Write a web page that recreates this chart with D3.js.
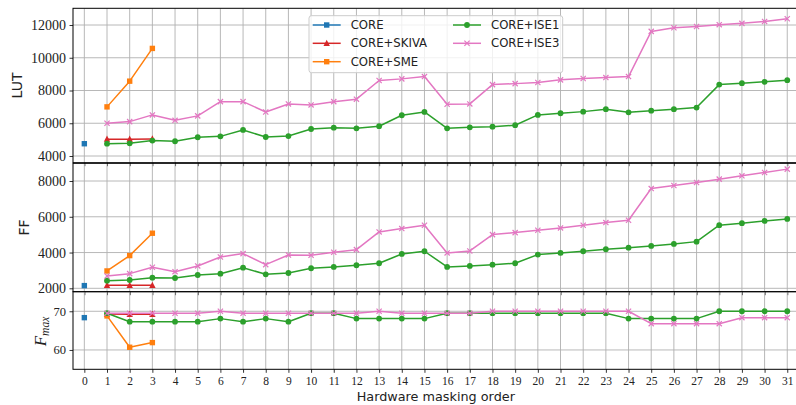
<!DOCTYPE html>
<html><head><meta charset="utf-8">
<script src="https://cdn.jsdelivr.net/npm/d3@7"></script>
<style>body{margin:0;background:#fff}svg{display:block}</style>
</head><body>
<svg id="c" width="796" height="405"></svg>
<script>
// ---------- data ----------
const orders = d3.range(0, 32);
const xTicks = d3.range(0, 32);
const seriesNames = ["CORE", "CORE+SKIVA", "CORE+SME", "CORE+ISE1", "CORE+ISE3"];
const seriesColors = ["#1f77b4", "#d62728", "#ff7f0e", "#2ca02c", "#e377c2"];
const seriesMarkers = ["square", "triangle", "square", "circle", "x"];

const coreX = [0];
const coreLUT = [4750];
const coreFF = [2150];
const coreFmax = [68.35];

const skivaX = [1, 2, 3];
const skivaLUT = [5030, 5030, 5040];
const skivaFF = [2170, 2170, 2170];
const skivaFmax = [69.3, 69.2, 69.2];

const smeX = [1, 2, 3];
const smeLUT = [7000, 8570, 10570];
const smeFF = [2970, 3830, 5080];
const smeFmax = [68.8, 60.7, 61.9];

const iseX = d3.range(1, 32);
const ise1LUT = [4750,4775,4940,4900,5145,5200,5590,5160,5220,5650,5730,5690,5820,6490,6690,5690,5750,5790,5880,6510,6610,6710,6860,6670,6770,6860,6960,8360,8450,8530,8630];
const ise1FF = [2426,2465,2594,2577,2745,2818,3154,2784,2857,3120,3193,3288,3400,3921,4072,3193,3249,3322,3400,3884,3977,4072,4184,4274,4369,4481,4610,5528,5640,5769,5881];
const ise1Fmax = [69.5,67.3,67.3,67.3,67.3,68.1,67.3,68.1,67.3,69.5,69.5,68.1,68.1,68.1,68.1,69.5,69.5,69.5,69.5,69.5,69.5,69.5,69.5,68.1,68.1,68.1,68.1,70.0,70.0,70.0,70.0];

const ise3LUT = [6000,6100,6510,6180,6450,7320,7320,6690,7180,7120,7320,7470,8610,8710,8850,7160,7180,8360,8420,8490,8650,8730,8790,8850,11610,11830,11910,12020,12100,12220,12380];
const ise3FF = [2690,2820,3176,2930,3250,3753,3940,3322,3865,3848,4016,4162,5153,5340,5528,3977,4089,5002,5114,5248,5377,5528,5674,5808,7578,7746,7914,8104,8289,8474,8664];
const ise3Fmax = [69.5,69.5,69.5,69.5,69.5,70.0,69.5,69.5,69.5,69.5,69.5,69.5,70.0,69.5,69.5,69.5,69.5,70.0,70.0,70.0,70.0,70.0,70.0,70.0,66.8,66.8,66.8,66.8,68.35,68.35,68.35];

const lutTicks = [4000, 6000, 8000, 10000, 12000];
const ffTicks = [2000, 4000, 6000, 8000];
const fmaxTicks = [60, 70];

// ---------- layout ----------
const svg = d3.select("#c");
const left = 73, right = 798.6;
const x = d3.scaleLinear().domain([-0.5, 31.5]).range([left, right]);

const panels = [
  {key: "LUT", y0: 8.3, y1: 162.7, domain: [3591, 13020], ticks: lutTicks, tickFont: 14, label: "LUT", labelX: 17,
   data: [[coreX, coreLUT], [skivaX, skivaLUT], [smeX, smeLUT], [iseX, ise1LUT], [iseX, ise3LUT]]},
  {key: "FF", y0: 163.3, y1: 291.7, domain: [1810, 8990], ticks: ffTicks, tickFont: 14, label: "FF", labelX: 24,
   data: [[coreX, coreFF], [skivaX, skivaFF], [smeX, smeFF], [iseX, ise1FF], [iseX, ise3FF]]},
  {key: "Fmax", y0: 291.7, y1: 369.3, domain: [55.0, 75.06], ticks: fmaxTicks, tickFont: 12.5, label: null, labelX: 42,
   data: [[coreX, coreFmax], [skivaX, skivaFmax], [smeX, smeFmax], [iseX, ise1Fmax], [iseX, ise3Fmax]]}
];

function drawMarker(g, type, cx, cy, color) {
  const s = 5.4;
  if (type === "square") {
    g.append("rect").attr("x", cx - s/2).attr("y", cy - s/2).attr("width", s).attr("height", s).attr("fill", color);
  } else if (type === "circle") {
    g.append("circle").attr("cx", cx).attr("cy", cy).attr("r", 2.9).attr("fill", color);
  } else if (type === "triangle") {
    const h = 6;
    g.append("path").attr("d", `M${cx},${cy - h*0.6}L${cx + 3.2},${cy + h*0.45}L${cx - 3.2},${cy + h*0.45}Z`).attr("fill", color);
  } else if (type === "x") {
    const r = 2.6;
    g.append("path").attr("d", `M${cx-r},${cy-r}L${cx+r},${cy+r}M${cx-r},${cy+r}L${cx+r},${cy-r}`)
      .attr("stroke", color).attr("stroke-width", 1.2).attr("fill", "none");
  }
}

panels.forEach((p, pi) => {
  const y = d3.scaleLinear().domain(p.domain).range([p.y1, p.y0]);
  const g = svg.append("g");
  const clipId = "clip" + pi;
  svg.append("clipPath").attr("id", clipId).append("rect")
    .attr("x", left).attr("y", p.y0).attr("width", right - left).attr("height", p.y1 - p.y0);

  // grid
  const grid = g.append("g").attr("clip-path", `url(#${clipId})`);
  grid.selectAll("line.v").data(xTicks).enter().append("line")
    .attr("x1", d => x(d)).attr("x2", d => x(d)).attr("y1", p.y0).attr("y2", p.y1)
    .attr("stroke", "#b0b0b0").attr("stroke-width", 0.9);
  grid.selectAll("line.h").data(p.ticks).enter().append("line")
    .attr("y1", d => y(d)).attr("y2", d => y(d)).attr("x1", left).attr("x2", right)
    .attr("stroke", "#b0b0b0").attr("stroke-width", 0.9);

  // series
  const plot = g.append("g").attr("clip-path", `url(#${clipId})`);
  p.data.forEach(([xs, vs], si) => {
    const pts = xs.map((xx, i) => [x(xx), y(vs[i])]);
    const color = seriesColors[si];
    if (pts.length > 1) {
      plot.append("path").attr("d", d3.line()(pts)).attr("fill", "none")
        .attr("stroke", color).attr("stroke-width", 1.5).attr("stroke-linejoin", "round");
    }
    pts.forEach(([cx, cy]) => drawMarker(plot, seriesMarkers[si], cx, cy, color));
  });

  // y axis
  const yAxis = d3.axisLeft(y).tickValues(p.ticks).tickSize(3.5).tickPadding(3.5).tickFormat(d3.format("d"));
  const ya = g.append("g").attr("transform", `translate(${left},0)`).call(yAxis);
  ya.select(".domain").remove();
  ya.selectAll("text").attr("font-family", "'Liberation Serif', serif").attr("font-size", p.tickFont).attr("fill", "#222");
  ya.selectAll("line").attr("stroke", "#000").attr("stroke-width", 0.8);

  // x axis ticks (labels only on bottom)
  const xAxis = d3.axisBottom(x).tickValues(xTicks).tickSize(3.5).tickPadding(4)
    .tickFormat(pi === panels.length - 1 ? d3.format("d") : () => "");
  const xa = g.append("g").attr("transform", `translate(0,${p.y1})`).call(xAxis);
  xa.select(".domain").remove();
  xa.selectAll("line").attr("stroke", "#000").attr("stroke-width", 0.8);
  xa.selectAll("text").attr("font-family", "'Liberation Serif', serif").attr("font-size", 11.5).attr("fill", "#222");

  // spines
  g.append("rect").attr("x", left).attr("y", p.y0).attr("width", right - left).attr("height", p.y1 - p.y0)
    .attr("fill", "none").attr("stroke", "#000").attr("stroke-width", 1);

  // y label
  const cy = (p.y0 + p.y1) / 2;
  if (p.label) {
    svg.append("text").attr("transform", `translate(${p.labelX},${cy}) rotate(-90)`)
      .attr("text-anchor", "middle").attr("dominant-baseline", "central")
      .attr("font-family", "'DejaVu Sans', sans-serif").attr("font-size", 14).attr("fill", "#222").text(p.label);
  } else {
    const t = svg.append("text").attr("transform", `translate(${p.labelX + 4},${cy + 1}) rotate(-90)`)
      .attr("text-anchor", "middle")
      .attr("font-family", "'Liberation Serif', serif").attr("font-style", "italic").attr("fill", "#222");
    t.append("tspan").attr("font-size", 17).text("F");
    t.append("tspan").attr("font-size", 11.5).attr("dy", 3).text("max");
  }
});

// x label
svg.append("text").attr("x", (left + right) / 2).attr("y", 401)
  .attr("text-anchor", "middle").attr("font-family", "'DejaVu Sans', sans-serif").attr("font-size", 12.8)
  .attr("fill", "#222").text("Hardware masking order");

// legend
const lg = svg.append("g");
lg.append("rect").attr("x", 309).attr("y", 15.7).attr("width", 253.7).attr("height", 57).attr("rx", 2.5)
  .attr("fill", "#fff").attr("fill-opacity", 0.8).attr("stroke", "#cccccc").attr("stroke-width", 1);
const legendPos = [[312.7, 25], [312.7, 43.3], [312.7, 61.7], [453, 25], [453, 43.3]];
seriesNames.forEach((name, i) => {
  const [lx, ly] = legendPos[i];
  lg.append("line").attr("x1", lx).attr("x2", lx + 28).attr("y1", ly).attr("y2", ly)
    .attr("stroke", seriesColors[i]).attr("stroke-width", 1.5);
  drawMarker(lg, seriesMarkers[i], lx + 14, ly, seriesColors[i]);
  lg.append("text").attr("x", lx + 38).attr("y", ly).attr("dominant-baseline", "central")
    .attr("font-family", "'DejaVu Sans', sans-serif").attr("font-size", 11.7).attr("fill", "#222").text(name);
});
</script>
</body></html>
